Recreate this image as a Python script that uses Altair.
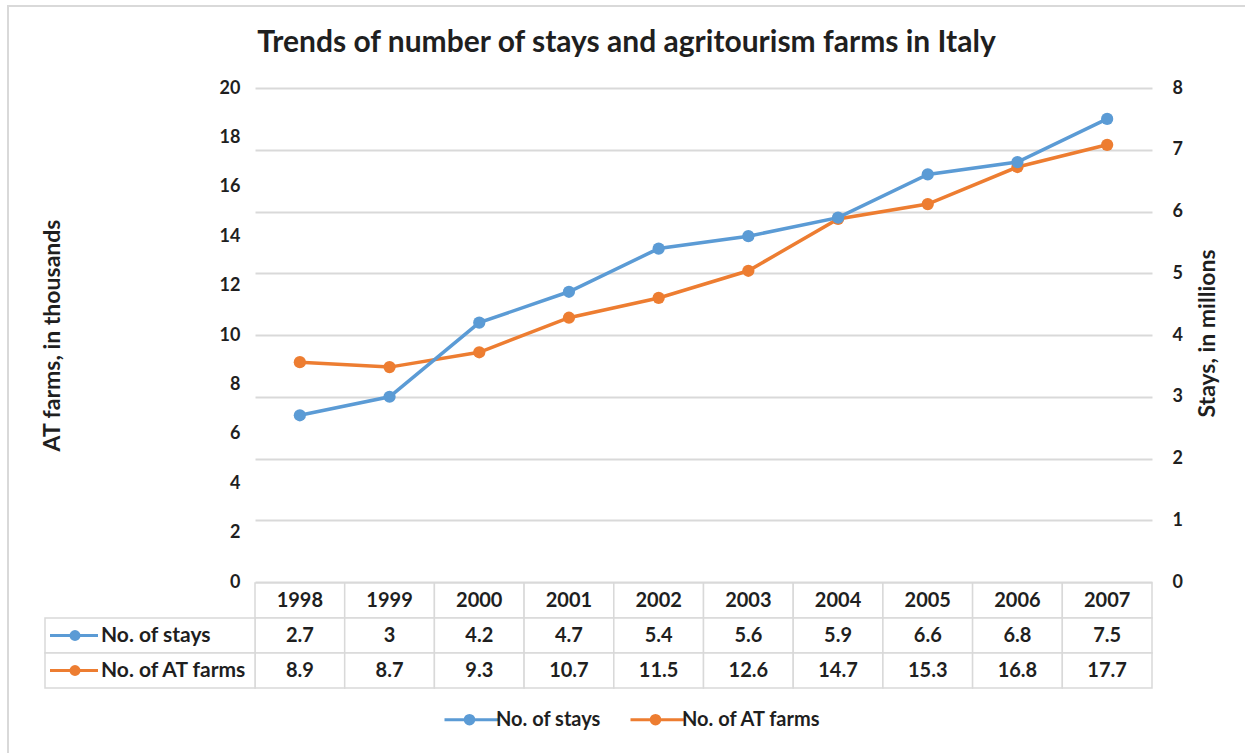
import altair as alt
import pandas as pd

years = ["1998", "1999", "2000", "2001", "2002", "2003", "2004", "2005", "2006", "2007"]
stays = [2.7, 3, 4.2, 4.7, 5.4, 5.6, 5.9, 6.6, 6.8, 7.5]
farms = [8.9, 8.7, 9.3, 10.7, 11.5, 12.6, 14.7, 15.3, 16.8, 17.7]
series = ["No. of stays", "No. of AT farms"]
colors = ["#5B9BD5", "#ED7D31"]
left_ticks = [0, 2, 4, 6, 8, 10, 12, 14, 16, 18, 20]
right_ticks = [0, 1, 2, 3, 4, 5, 6, 7, 8]

FONT = "Lato"
TXT = "#1f1f1f"
GRID = "#d9d9d9"

df = pd.DataFrame({"year": years, "stays": stays, "farms": farms})
df_st = pd.DataFrame({"year": years, "value": stays, "series": series[0]})
df_fa = pd.DataFrame({"year": years, "value": farms, "series": series[1]})
one = pd.DataFrame({"k": [0]})

xscale = alt.Scale(domain=years, paddingInner=0, paddingOuter=0)
X = alt.X("year:N", scale=xscale, axis=None)
color_scale = alt.Scale(domain=series, range=colors)

legend_path = "M-1,0H1.15M-0.17,0A0.17,0.17,0,1,1,0.17,0A0.17,0.17,0,1,1,-0.17,0Z"
legend = alt.Legend(
    orient="none", legendX=188, legendY=605, direction="horizontal", title=None,
    symbolType=legend_path, symbolSize=2500, symbolStrokeWidth=3,
    labelFont=FONT, labelFontSize=20, labelFontWeight="bold", labelColor=TXT,
    columnPadding=23, labelOffset=0,
)

left_axis = alt.Axis(
    orient="left", values=left_ticks, grid=False, ticks=False, domain=False,
    labelPadding=15, labelFont=FONT, labelFontSize=18, labelFontWeight="bold", labelColor=TXT,
    title="AT farms, in thousands", titleFont=FONT, titleFontSize=23, titleFontWeight="bold",
    titleColor=TXT, titleX=-203, titleY=247, titleAngle=270, titleBaseline="middle", titleAlign="center",
)
right_axis = alt.Axis(
    orient="right", values=right_ticks, grid=True, gridColor=GRID, gridWidth=2,
    ticks=False, domain=False,
    labelPadding=20, labelFont=FONT, labelFontSize=18, labelFontWeight="bold", labelColor=TXT,
    title="Stays, in millions", titleFont=FONT, titleFontSize=23, titleFontWeight="bold",
    titleColor=TXT, titleX=55, titleY=245, titleAngle=270, titleBaseline="middle", titleAlign="center",
)

sc_farms = alt.Scale(domain=[0, 20], range=[494, 0])
sc_stays = alt.Scale(domain=[0, 8], range=[494, 0])
col = alt.Color("series:N", scale=color_scale, legend=legend)

farms_line = alt.Chart(df_fa).mark_line(strokeWidth=3.5).encode(
    x=X, y=alt.Y("value:Q", scale=sc_farms, axis=left_axis), color=col)
farms_pts = alt.Chart(df_fa).mark_point(filled=True, size=150, opacity=1).encode(
    x=X, y=alt.Y("value:Q", scale=sc_farms, axis=left_axis), color=col)
stays_line = alt.Chart(df_st).mark_line(strokeWidth=3.5).encode(
    x=X, y=alt.Y("value:Q", scale=sc_stays, axis=right_axis), color=col)
stays_pts = alt.Chart(df_st).mark_point(filled=True, size=150, opacity=1).encode(
    x=X, y=alt.Y("value:Q", scale=sc_stays, axis=right_axis), color=col)

farms_layer = alt.layer(farms_line, farms_pts)
stays_layer = alt.layer(stays_line, stays_pts)

# data table
rows = [(495, 530), (530, 565), (565, 600)]
cells = []
for (y0, y1) in rows:
    cells.append(alt.Chart(df).mark_rect(fill="white", stroke=GRID, strokeWidth=1.5).encode(
        x=X, y=alt.value(y0), y2=alt.value(y1)))
for (y0, y1) in rows[1:]:
    cells.append(alt.Chart(one).mark_rect(fill="white", stroke=GRID, strokeWidth=1.5).encode(
        x=alt.value(-210), x2=alt.value(0), y=alt.value(y0), y2=alt.value(y1)))

def tcol(field, yc):
    return alt.Chart(df).mark_text(font=FONT, fontSize=20, fontWeight="bold", color=TXT,
                                   align="center", baseline="middle").encode(
        x=X, y=alt.value(yc), text=alt.Text(field))

texts = [tcol("year:N", 512.5), tcol("stays:N", 547.5), tcol("farms:N", 582.5)]

row_labels = []
for i, yc in enumerate([547.5, 582.5]):
    row_labels.append(alt.Chart(one).mark_rule(color=colors[i], strokeWidth=3).encode(
        x=alt.value(-205), x2=alt.value(-157), y=alt.value(yc)))
    row_labels.append(alt.Chart(one).mark_point(filled=True, size=120, opacity=1, color=colors[i]).encode(
        x=alt.value(-180), y=alt.value(yc)))
    row_labels.append(alt.Chart(pd.DataFrame({"s": [series[i]]})).mark_text(
        font=FONT, fontSize=21, fontWeight="bold", color=TXT, align="left", baseline="middle").encode(
        x=alt.value(-154), y=alt.value(yc), text="s:N"))

border = alt.Chart(one).mark_rect(fill=None, stroke=GRID, strokeWidth=2).encode(
    x=alt.value(-247), x2=alt.value(995), y=alt.value(-82), y2=alt.value(690))

chart = alt.layer(
    border, *cells, *texts, *row_labels, farms_layer, stays_layer,
).resolve_scale(y="independent").properties(
    width=897, height=600,
    padding={"left": 255, "top": 88, "right": 93, "bottom": 65},
    autosize=alt.AutoSizeParams(type="none"),
    background="white",
    title=alt.TitleParams(
        "Trends of number of stays and agritourism farms in Italy",
        font=FONT, fontSize=30, fontWeight="bold", color=TXT,
        anchor="middle", frame="group", dx=-77, offset=-53,
    ),
).configure_view(stroke="transparent", strokeWidth=0)

chart.save("out.html", embed_options={"renderer": "svg", "actions": False})
